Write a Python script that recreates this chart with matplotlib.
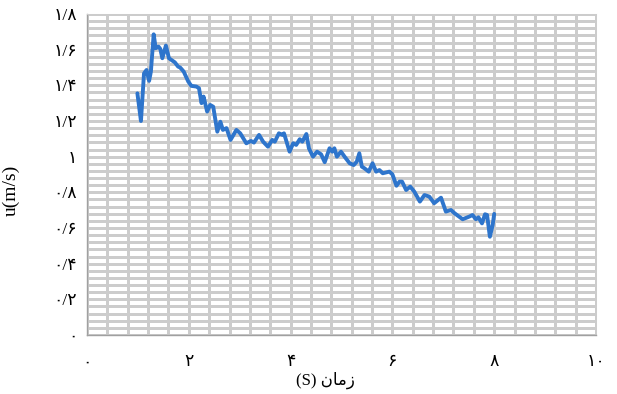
import matplotlib
matplotlib.use('Agg')
import matplotlib.pyplot as plt
from matplotlib.ticker import FixedLocator

# time (s) and velocity (m/s)
t = [0.99, 1.06, 1.12, 1.17, 1.22, 1.255, 1.31, 1.35, 1.405, 1.44, 1.48, 1.55,
     1.61, 1.725, 1.79, 1.83, 1.90, 1.99, 2.05, 2.15, 2.20, 2.25, 2.29, 2.36,
     2.42, 2.48, 2.56, 2.62, 2.67, 2.74, 2.82, 2.935, 3.01, 3.13, 3.22, 3.28,
     3.38, 3.46, 3.555, 3.64, 3.69, 3.77, 3.84, 3.87, 3.98, 4.05, 4.11, 4.18,
     4.23, 4.31, 4.36, 4.44, 4.52, 4.60, 4.67, 4.765, 4.82, 4.86, 4.91, 4.99,
     5.06, 5.16, 5.24, 5.30, 5.35, 5.40, 5.45, 5.535, 5.61, 5.68, 5.745, 5.81,
     5.94, 6.0, 6.08, 6.14, 6.19, 6.27, 6.35, 6.43, 6.54, 6.63, 6.725, 6.82,
     6.955, 7.05, 7.15, 7.22, 7.38, 7.51, 7.575, 7.64, 7.69, 7.76, 7.82, 7.86,
     7.915, 7.97, 8.0]
u = [1.355, 1.20, 1.467, 1.486, 1.425, 1.477, 1.686, 1.608, 1.617, 1.604, 1.552, 1.623,
     1.552, 1.529, 1.505, 1.50, 1.477, 1.421, 1.397, 1.393, 1.384, 1.30, 1.337, 1.253,
     1.29, 1.28, 1.14, 1.196, 1.15, 1.16, 1.094, 1.15, 1.131, 1.075, 1.088, 1.079,
     1.122, 1.084, 1.056, 1.094, 1.084, 1.131, 1.122, 1.131, 1.028, 1.075, 1.066, 1.098,
     1.084, 1.127, 1.047, 1.0, 1.028, 1.013, 0.969, 1.047, 1.028, 1.047, 1.0, 1.028,
     1.0, 0.963, 0.953, 0.972, 1.019, 0.944, 0.935, 0.916, 0.963, 0.916, 0.925, 0.907,
     0.916, 0.901, 0.837, 0.86, 0.86, 0.813, 0.832, 0.804, 0.748, 0.785, 0.776, 0.739,
     0.770, 0.692, 0.701, 0.683, 0.649, 0.664, 0.673, 0.649, 0.660, 0.626, 0.677, 0.673,
     0.551, 0.617, 0.679]

x_ticks = [0, 2, 4, 6, 8, 10]
x_labels = ['\u06f0', '\u06f2', '\u06f4', '\u06f6', '\u06f8', '\u06f1\u06f0']
y_ticks = [0, 0.2, 0.4, 0.6, 0.8, 1.0, 1.2, 1.4, 1.6, 1.8]
y_labels = ['\u06f0', '\u06f0/\u06f2', '\u06f0/\u06f4', '\u06f0/\u06f6', '\u06f0/\u06f8',
            '\u06f1', '\u06f1/\u06f2', '\u06f1/\u06f4', '\u06f1/\u06f6', '\u06f1/\u06f8']
# "(S) zaman" in visual order with Arabic presentation forms
x_title = '(S) \ufee5\ufe8e\ufee3\ufeaf'
y_title = 'u(m/s)'

fonts = ['Liberation Serif', 'DejaVu Sans']

fig = plt.figure(figsize=(6.17, 3.94), dpi=100)
ax = fig.add_axes([87 / 617, 1 - 335 / 394, 509 / 617, 321 / 394])

ax.set_xlim(0, 10)
ax.set_ylim(0, 1.8)

# fine Excel-style grid
for gx in range(26):
    ax.axvline(gx * 0.4, color='#CCCCCC', linewidth=0.75, antialiased=False, zorder=1)
for gy in range(46):
    ax.axhline(gy * 0.04, color='#CCCCCC', linewidth=0.75, antialiased=False, zorder=1)

ax.plot(t, u, color='#2E75CC', linewidth=2.8, zorder=3,
        solid_joinstyle='round', solid_capstyle='round')

ax.xaxis.set_major_locator(FixedLocator(x_ticks))
ax.yaxis.set_major_locator(FixedLocator(y_ticks))
ax.set_xticklabels(x_labels, family=fonts, fontsize=12.5)
ax.set_yticklabels(y_labels, family=fonts, fontsize=12.5)
ax.tick_params(which='both', length=0)
ax.tick_params(axis='x', pad=14)
ax.tick_params(axis='y', pad=7)

for side in ['top', 'right']:
    ax.spines[side].set_color('#CCCCCC')
    ax.spines[side].set_linewidth(0.75)
for side in ['left', 'bottom']:
    ax.spines[side].set_color('#A0A0A0')
    ax.spines[side].set_linewidth(1.0)

ax.set_xlabel(x_title, family=fonts, fontsize=12)
ax.xaxis.set_label_coords((325 - 87) / 509, -(372 - 335) / 321)
ax.set_ylabel(y_title, family=fonts, fontsize=14)
ax.yaxis.set_label_coords(-(87 - 20) / 509, (335 - 190) / 321)

fig.savefig('out.png', dpi=100)
